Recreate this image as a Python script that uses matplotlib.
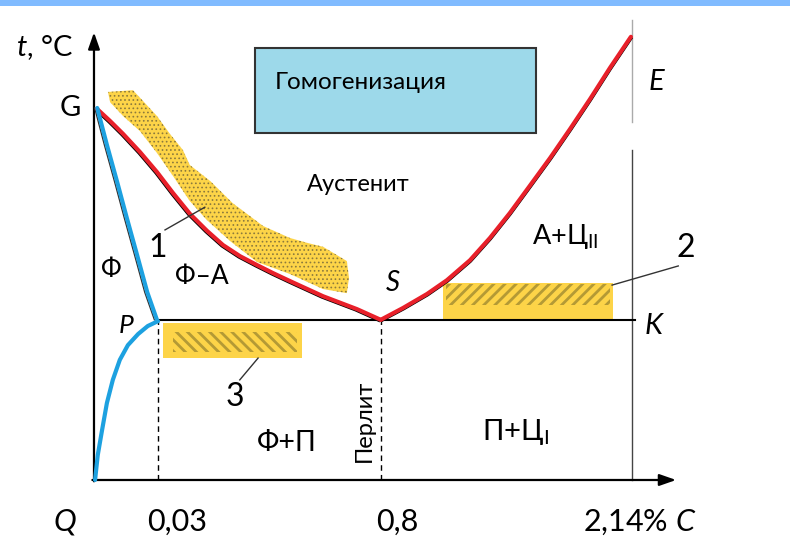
import matplotlib
matplotlib.use("Agg")
import matplotlib.pyplot as plt
import matplotlib.transforms as mtransforms
from matplotlib.patches import Polygon, Rectangle

plt.rcParams["font.family"] = ["Lato", "DejaVu Sans"]
plt.rcParams["mathtext.fontset"] = "custom"
plt.rcParams["mathtext.rm"] = "Lato"
plt.rcParams["mathtext.it"] = "Lato:italic"

# schematic scale: composition 0..100 (Q..K), temperature 0..100 (x-axis..E)
# --- phase boundaries ---
gs_x = [0.56, 2.97, 5.39, 8.55, 11.71, 14.68, 17.84, 21.0, 23.98, 27.14, 30.3, 33.27, 36.43, 42.57, 48.88, 53.3]
gs_y = [83.4, 80.7, 77.8, 73.7, 69.2, 64.5, 59.8, 56.0, 52.8, 50.3, 48.3, 46.5, 44.7, 41.3, 38.4, 36.0]

se_x = [53.3, 57.43, 61.9, 65.6, 69.9, 73.6, 77.3, 81.0, 84.8, 88.5, 92.2, 95.9, 99.8]
se_y = [36.0, 38.65, 41.8, 44.9, 49.4, 54.4, 60.0, 66.1, 72.4, 78.9, 85.6, 92.6, 99.6]

gp_x = [0.6, 2.4, 4.3, 6.1, 8.0, 9.9, 11.7]
gp_y = [83.6, 75.3, 67.0, 58.9, 50.6, 42.2, 36.0]

pq_x = [11.9, 10.0, 8.2, 6.3, 4.8, 3.5, 2.4, 1.5, 0.7, 0.2]
pq_y = [35.7, 34.6, 32.8, 30.3, 27.0, 22.5, 17.3, 11.2, 5.6, 0.0]

# key points
P_x, S_x, K_x = 11.9, 53.3, 100.0
PSK_y = 36.0

# highlighted zone 1 (band along GS)
band_x = [2.6, 7.25, 11.7, 14.1, 16.5, 17.8, 21.6, 25.8, 29.0, 31.4, 36.4, 39.6, 42.6, 47.0, 47.4,
          47.0, 42.6, 36.4, 30.3, 25.3, 21.0, 17.8, 14.7, 11.7, 8.55, 5.4, 3.0]
band_y = [87.2, 87.6, 81.8, 77.8, 74.2, 70.8, 67.2, 62.2, 59.3, 57.1, 54.4, 53.3, 52.4, 49.2, 45.4,
          42.0, 42.9, 46.3, 49.0, 53.7, 58.4, 62.7, 68.3, 73.5, 78.4, 81.8, 84.9]

# zones 2 and 3: (x0, x1, y0, y1) and hatched part
zone2 = (64.9, 96.5, 36.2, 44.3)
zone2_hatch = (65.5, 96.0, 39.3, 44.1)
zone3 = (12.8, 38.6, 27.4, 35.3)
zone3_hatch = (14.7, 37.7, 28.8, 33.3)

tick_pos = [-5.4, 15.4, 56.3, 101.5]
tick_text = ["$Q$", "0,03", "0,8", "2,14% $C$"]

YELLOW = "#FDD448"
HATCH = "#B49A35"
RED = "#E8202A"
BLUE = "#1DA1E0"

fig = plt.figure(figsize=(7.9, 5.41), dpi=100)
ax = fig.add_axes([0, 0, 1, 1])
ax.set_xlim(-17.47, 129.37)
ax.set_ylim(-13.71, 107.87)
ax.axis("off")

# top blue strip
fig.patches.append(Rectangle((0, 1 - 6 / 541), 1, 6 / 541, transform=fig.transFigure,
                             facecolor="#80BBFF", edgecolor="none"))

# yellow zones
ax.add_patch(Polygon(list(zip(band_x, band_y)), closed=True, facecolor=YELLOW,
                     edgecolor="none", zorder=1))
with plt.rc_context({"hatch.linewidth": 0.7}):
    ax.add_patch(Polygon(list(zip(band_x, band_y)), closed=True, facecolor="none",
                         edgecolor="#8C7A3C", hatch="....", lw=0, zorder=1.1))

for (x0, x1, y0, y1), (hx0, hx1, hy0, hy1), hatch in [
        (zone2, zone2_hatch, "///"), (zone3, zone3_hatch, "\\\\\\")]:
    ax.add_patch(Rectangle((x0, y0), x1 - x0, y1 - y0, facecolor=YELLOW,
                           edgecolor="none", zorder=1))
    with plt.rc_context({"hatch.linewidth": 2.0}):
        ax.add_patch(Rectangle((hx0, hy0), hx1 - hx0, hy1 - hy0, facecolor="none",
                               edgecolor=HATCH, hatch=hatch, lw=0, zorder=1.1))

# homogenization box
ax.add_patch(Rectangle((29.9, 78.0), 52.3, 19.1, facecolor="#9DD9EA",
                       edgecolor="#333333", lw=1.5, zorder=2))
ax.text(33.6, 89.4, "Гомогенизация", fontsize=17.5, ha="left", va="center", zorder=3)

# axes with arrows
ax.annotate("", xy=(0, 100.6), xytext=(0, -0.3),
            arrowprops=dict(arrowstyle="-|>,head_width=0.35,head_length=1.0",
                            lw=1.6, color="black", shrinkA=0, shrinkB=0))
ax.annotate("", xy=(108.2, 0), xytext=(-0.3, 0),
            arrowprops=dict(arrowstyle="-|>,head_width=0.35,head_length=1.0",
                            lw=1.6, color="black", shrinkA=0, shrinkB=0))

# vertical 2.14 % line
ax.plot([K_x, K_x], [0, 74.2], color="#444444", lw=1.0, zorder=2)
ax.plot([K_x, K_x], [80.4, 103.4], color="#AAAAAA", lw=1.0, zorder=2)

# PSK line and dashed verticals
ax.plot([P_x, K_x + 0.6], [PSK_y, PSK_y], color="black", lw=1.5, zorder=3)
ax.plot([P_x, P_x], [0, PSK_y], color="black", lw=1.0, ls=(0, (4, 3)), zorder=3)
ax.plot([S_x, S_x], [0, PSK_y], color="black", lw=1.0, ls=(0, (4, 3)), zorder=3)

# black original lines slightly shifted under the coloured ones
shift_dl = mtransforms.offset_copy(ax.transData, fig=fig, x=-1.5, y=-1.5, units="dots")
shift_l = mtransforms.offset_copy(ax.transData, fig=fig, x=-2.5, y=0, units="dots")
shift_d = mtransforms.offset_copy(ax.transData, fig=fig, x=1, y=-1.5, units="dots")
ax.plot(gs_x, gs_y, color="black", lw=1.2, transform=shift_dl, zorder=3)
ax.plot(gp_x, gp_y, color="#333333", lw=1.0, transform=shift_l, zorder=3)
ax.plot(se_x, se_y, color="black", lw=1.2, transform=shift_d, zorder=3)

for xs, ys, col in [(gs_x, gs_y, RED), (se_x, se_y, RED), (gp_x, gp_y, BLUE), (pq_x, pq_y, BLUE)]:
    ax.plot(xs, ys, color=col, lw=3.0, solid_capstyle="round", solid_joinstyle="round", zorder=4)

# leaders
ax.plot([13.2, 20.6], [56.2, 61.3], color="#333333", lw=1.0, zorder=5)
ax.plot([96.3, 108.6], [43.8, 48.1], color="#333333", lw=1.0, zorder=5)
ax.plot([30.5, 27.1], [27.4, 22.5], color="#333333", lw=1.0, zorder=5)

# labels
ax.text(-9.1, 97.1, "$t$, °C", fontsize=21, ha="center", va="center")
ax.text(-4.5, 83.6, "G", fontsize=21, ha="center", va="center")
ax.text(104.6, 89.4, "$E$", fontsize=21, ha="center", va="center")
ax.text(104.1, 34.6, "$K$", fontsize=21, ha="center", va="center")
ax.text(55.6, 44.3, "$S$", fontsize=20, ha="center", va="center")
ax.text(6.1, 34.8, "$P$", fontsize=19, ha="center", va="center")
ax.text(3.2, 47.2, "Ф", fontsize=19, ha="center", va="center")
ax.text(20.1, 45.8, "Ф–А", fontsize=19, ha="center", va="center")
ax.text(49.1, 66.3, "Аустенит", fontsize=17, ha="center", va="center")
ax.text(87.5, 54.8, "А+Ц$_{\\mathrm{II}}$", fontsize=19.5, ha="center", va="center")
ax.text(78.3, 10.8, "П+Ц$_{\\mathrm{I}}$", fontsize=21, ha="center", va="center")
ax.text(35.9, 8.3, "Ф+П", fontsize=20.5, ha="center", va="center")
ax.text(50.2, 13.3, "Перлит", fontsize=17, ha="center", va="center", rotation=90)
ax.text(11.9, 52.1, "1", fontsize=23, ha="center", va="center")
ax.text(109.9, 52.1, "2", fontsize=23, ha="center", va="center")
ax.text(26.2, 18.7, "3", fontsize=23, ha="center", va="center")

for xp, label in zip(tick_pos, tick_text):
    ax.text(xp, -9.4, label, fontsize=22, ha="center", va="center")

fig.savefig("out.png", dpi=100)
